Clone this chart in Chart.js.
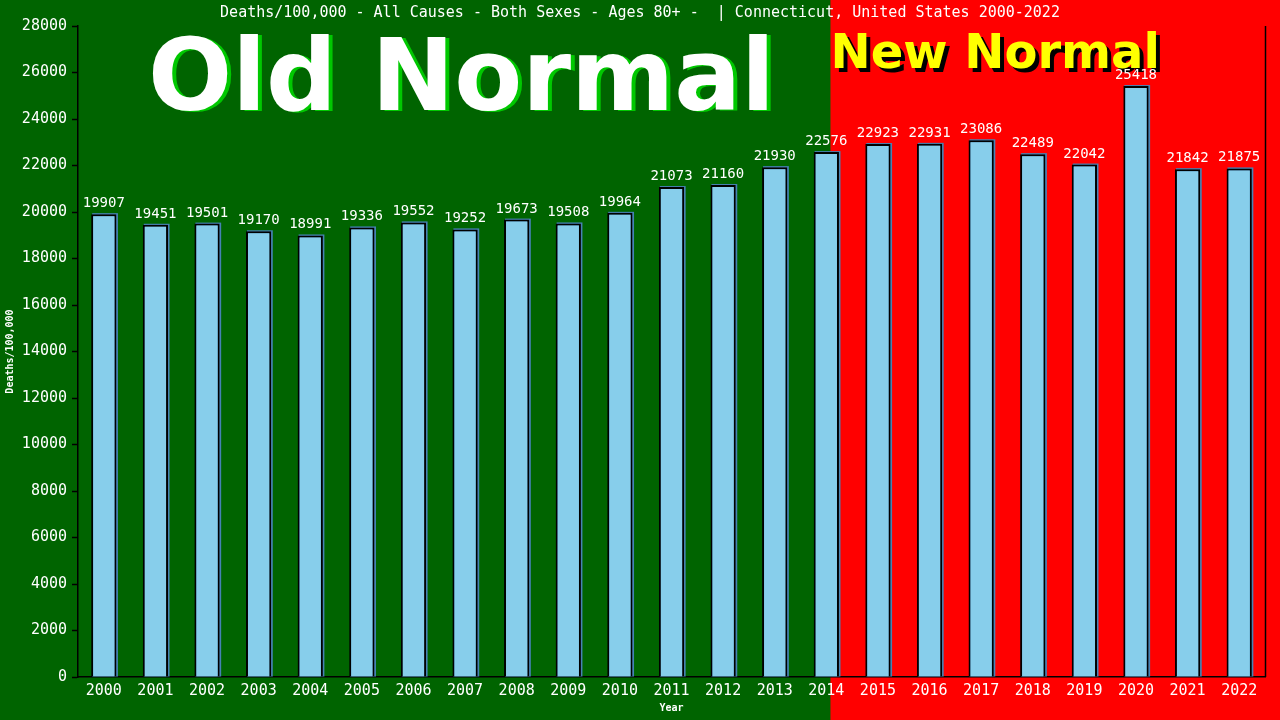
<!DOCTYPE html>
<html>
<head>
<meta charset="utf-8">
<script src="https://cdn.jsdelivr.net/npm/chart.js@4"></script>
<style>
  html, body { margin: 0; padding: 0; background: #006400; }
  #wrap { width: 1280px; height: 720px; }
</style>
</head>
<body>
<div id="wrap"><canvas id="chart" width="1280" height="720"></canvas></div>
<script>
// data
const years = ['2000','2001','2002','2003','2004','2005','2006','2007','2008','2009','2010','2011',
               '2012','2013','2014','2015','2016','2017','2018','2019','2020','2021','2022'];
const deathRates = [19907, 19451, 19501, 19170, 18991, 19336, 19552, 19252, 19673, 19508, 19964, 21073,
                    21160, 21930, 22576, 22923, 22931, 23086, 22489, 22042, 25418, 21842, 21875];
const yTicks = [0, 2000, 4000, 6000, 8000, 10000, 12000, 14000, 16000, 18000, 20000, 22000, 24000, 26000, 28000];

const TITLE = 'Deaths/100,000 - All Causes - Both Sexes - Ages 80+ -  | Connecticut, United States 2000-2022';
const GREEN = '#006400', RED = '#ff0000', SKY = '#87ceeb', MONO = "'DejaVu Sans Mono', monospace";
const NEW_NORMAL_FROM = 14.08; // index position where the red zone begins

// backgrounds, headline texts, right frame line, bar shadows, value labels
const decor = {
    id: 'decor',
    beforeDraw(chart) {
        const { ctx, width, height, scales: { x } } = chart;
        const step = x.getPixelForValue(1) - x.getPixelForValue(0);
        const redX = x.getPixelForValue(14) + (NEW_NORMAL_FROM - 14) * step;
        ctx.save();
        ctx.fillStyle = GREEN;
        ctx.fillRect(0, 0, width, height);
        ctx.fillStyle = RED;
        ctx.fillRect(redX, 0, width - redX, height);

        ctx.font = "bold 99px 'DejaVu Sans', sans-serif";
        ctx.textBaseline = 'alphabetic';
        ctx.fillStyle = '#00c800';
        ctx.fillText('Old Normal', 152, 111);
        ctx.fillStyle = '#ffffff';
        ctx.fillText('Old Normal', 148, 110);

        ctx.font = "bold 48px 'DejaVu Sans', sans-serif";
        ctx.fillStyle = '#000000';
        ctx.fillText('New Normal', redX + 4, 72);
        ctx.fillStyle = '#ffff00';
        ctx.fillText('New Normal', redX, 68);

        ctx.font = '15px ' + MONO;
        ctx.fillStyle = '#ffffff';
        ctx.textAlign = 'center';
        ctx.textBaseline = 'middle';
        ctx.fillText(TITLE, 640, 13);
        ctx.restore();
    },
    beforeDatasetsDraw(chart) {
        const { ctx } = chart;
        ctx.save();
        ctx.fillStyle = '#4682b4';
        chart.getDatasetMeta(0).data.forEach(b => {
            const p = b.getProps(['x', 'y', 'base', 'width'], true);
            ctx.fillRect(p.x - p.width / 2 + 1, p.y - 1, p.width + 0.5, p.base - p.y + 1);
        });
        ctx.restore();
    },
    afterDatasetsDraw(chart) {
        const { ctx, chartArea } = chart;
        ctx.save();
        ctx.strokeStyle = '#000';
        ctx.lineWidth = 1.5;
        ctx.beginPath();
        ctx.moveTo(chartArea.right + 0.5, chartArea.top);
        ctx.lineTo(chartArea.right + 0.5, chartArea.bottom);
        ctx.stroke();

        ctx.font = '14px ' + MONO;
        ctx.fillStyle = '#fff';
        ctx.textAlign = 'center';
        ctx.textBaseline = 'alphabetic';
        const meta = chart.getDatasetMeta(0);
        meta.data.forEach((b, i) => {
            ctx.fillText(String(deathRates[i]), b.x, b.y - 7);
        });
        ctx.restore();
    }
};

new Chart(document.getElementById('chart'), {
    type: 'bar',
    data: {
        labels: years,
        datasets: [{
            data: deathRates,
            backgroundColor: SKY,
            borderColor: '#000',
            borderWidth: { top: 2, left: 2, right: 2, bottom: 0 },
            borderSkipped: 'bottom',
            categoryPercentage: 1,
            barPercentage: 0.49
        }]
    },
    options: {
        responsive: false,
        animation: false,
        devicePixelRatio: 1,
        layout: { padding: { top: 26, right: 15, left: 0, bottom: 0 } },
        plugins: { legend: { display: false }, tooltip: { enabled: false } },
        scales: {
            x: {
                grid: { display: false, drawTicks: false },
                border: { color: '#000', width: 1.5 },
                ticks: { color: '#fff', font: { family: MONO, size: 15 }, padding: 5, maxRotation: 0, autoSkip: false },
                title: { display: true, text: 'Year', color: '#fff', font: { family: MONO, size: 10, weight: 'bold' }, padding: { top: 0, bottom: 6 } },
                afterFit(s) { s.height = 43; }
            },
            y: {
                min: 0, max: 28000,
                afterBuildTicks(s) { s.ticks = yTicks.map(v => ({ value: v })); },
                grid: { drawOnChartArea: false, color: '#000', tickLength: 6, tickWidth: 1.5 },
                border: { color: '#000', width: 1.5 },
                ticks: { color: '#fff', font: { family: MONO, size: 15 }, padding: 5, callback: v => String(v) },
                title: { display: true, text: 'Deaths/100,000', color: '#fff', font: { family: MONO, size: 10, weight: 'bold' }, padding: { top: 4, bottom: 0 } },
                afterFit(s) { s.width = 78; }
            }
        }
    },
    plugins: [decor]
});
</script>
</body>
</html>
